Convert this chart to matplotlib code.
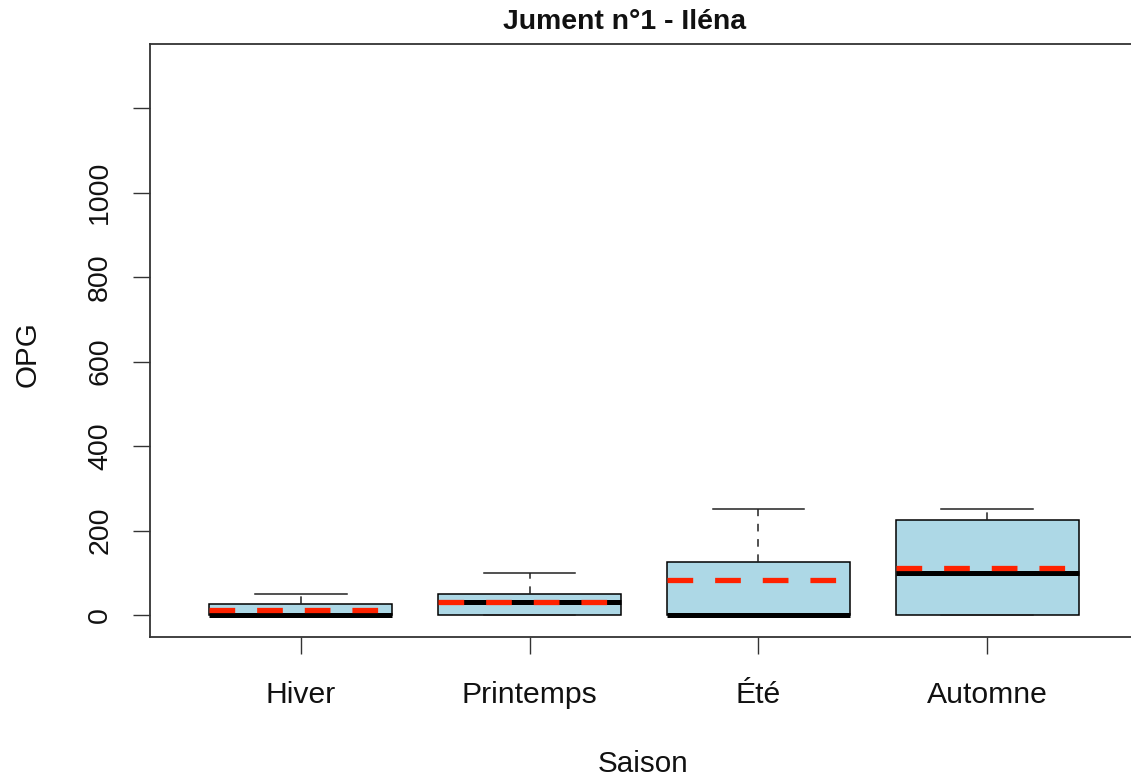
import matplotlib
matplotlib.use("Agg")
import matplotlib.pyplot as plt

plt.rcParams['font.family'] = ['Liberation Sans', 'DejaVu Sans']
plt.rcParams['lines.scale_dashes'] = False

categories = ['Hiver', 'Printemps', 'Été', 'Automne']
q1 = [0, 0, 0, 0]
medians = [0, 32, 0, 100]
q3 = [25, 50, 125, 225]
whisker_low = [0, 0, 0, 0]
whisker_high = [50, 100, 250, 250]
means = [12, 32, 83, 112]

yticks = [0, 200, 400, 600, 800, 1000, 1200]
yticklabels = ['0', '200', '400', '600', '800', '1000', '']

W, H = 1131, 781
fig = plt.figure(figsize=(W / 100, H / 100), dpi=100)
ax = fig.add_axes([150 / W, 1 - 637 / H, 988 / W, 593 / H])

stats = []
for i, c in enumerate(categories):
    stats.append(dict(label=c, q1=q1[i], med=medians[i], q3=q3[i],
                      whislo=whisker_low[i], whishi=whisker_high[i],
                      mean=means[i], fliers=[]))

red = '#FF2200'
ax.bxp(stats, positions=range(1, len(categories) + 1), widths=0.8,
       capwidths=0.4, patch_artist=True, showmeans=True, meanline=True,
       showfliers=False,
       boxprops=dict(facecolor='#ADD8E6', edgecolor='black', linewidth=1.1),
       medianprops=dict(color='black', linewidth=3.6, solid_capstyle='butt', zorder=3),
       meanprops=dict(color=red, linewidth=3.8, linestyle=(0, (18.5, 15.8)),
                      dash_capstyle='butt', zorder=4),
       whiskerprops=dict(color='#222222', linewidth=1.1, linestyle=(0, (5.5, 5.5))),
       capprops=dict(color='#222222', linewidth=1.1))

ax.set_xlim(0.34, 4.66)
ax.set_ylim(-52, 1352)
ax.set_xticks(range(1, len(categories) + 1))
ax.set_xticklabels(categories)
ax.set_yticks(yticks)
ax.set_yticklabels(yticklabels, rotation=90, va='center')

ax.tick_params(axis='both', length=12.5, width=1.0, color='#333333',
               labelcolor='#111111')
ax.tick_params(axis='x', pad=19.5, labelsize=21.7)
ax.tick_params(axis='y', pad=14, labelsize=20.5)
for s in ax.spines.values():
    s.set_linewidth(1.3)
    s.set_color('#333333')

fig.text(624.5 / W, 1 - 22 / H, 'Jument n°1 - Iléna', ha='center', va='center',
         fontsize=20.4, fontweight='bold', color='#111111')
fig.text(643 / W, 1 - 764 / H, 'Saison', ha='center', va='center',
         fontsize=21.3, color='#111111')
fig.text(28 / W, 1 - 354 / H, 'OPG', ha='center', va='center', rotation=90,
         fontsize=21.3, color='#111111')

fig.savefig('out.png', dpi=100)
